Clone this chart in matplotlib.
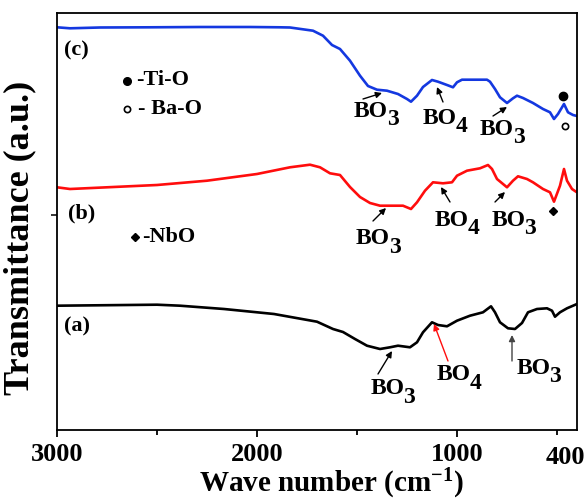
import matplotlib
matplotlib.use("Agg")
import matplotlib.pyplot as plt
from matplotlib.ticker import FixedLocator
from matplotlib.transforms import blended_transform_factory

plt.rcParams["font.family"] = ["Liberation Serif", "DejaVu Serif"]
plt.rcParams["font.weight"] = "bold"
plt.rcParams["mathtext.fontset"] = "custom"
plt.rcParams["mathtext.rm"] = "Liberation Serif:bold"
plt.rcParams["mathtext.bf"] = "Liberation Serif:bold"
plt.rcParams["mathtext.it"] = "Liberation Serif:bold:italic"

# ---- FTIR spectra (wavenumber in cm^-1, transmittance in arbitrary units, stacked) ----
wn_c = [3000, 2935, 2785, 2535, 2285, 2035, 1885, 1835, 1720, 1670, 1625, 1585,
        1535, 1485, 1445, 1400, 1350, 1295, 1250, 1230, 1200, 1170, 1125, 1095,
        1050, 1020, 1000, 975, 920, 850, 835, 810, 785, 750, 720, 700, 670, 620,
        570, 535, 515, 495, 465, 445, 420, 400]
tr_c = [402.7, 401.7, 402.5, 402.7, 403.0, 403.0, 402.7, 402.5, 399.3, 394.3,
        385.0, 381.0, 369.3, 354.3, 344.0, 340.3, 339.3, 336.0, 331.0, 328.3,
        334.3, 343.0, 350.0, 348.3, 345.0, 342.7, 347.7, 350.3, 350.3, 350.3,
        348.3, 341.0, 332.7, 327.0, 331.7, 334.3, 332.0, 327.0, 321.0, 317.7,
        311.0, 316.0, 326.0, 317.7, 315.0, 314.0]

wn_b = [3000, 2935, 2750, 2500, 2250, 2000, 1835, 1735, 1685, 1635, 1585, 1535,
        1485, 1435, 1385, 1320, 1270, 1230, 1200, 1160, 1120, 1070, 1025, 1000,
        950, 885, 845, 825, 800, 750, 720, 695, 650, 620, 570, 535, 515, 485,
        465, 450, 425, 405]
tr_b = [242.7, 241.0, 242.7, 245.0, 249.3, 256.0, 262.7, 265.3, 262.7, 256.7,
        255.0, 243.0, 233.0, 227.0, 224.3, 224.3, 224.3, 221.0, 227.7, 239.3,
        247.7, 246.7, 247.7, 254.3, 259.3, 261.7, 265.0, 261.0, 251.0, 242.7,
        249.3, 253.7, 251.0, 247.7, 241.0, 237.7, 228.3, 244.3, 261.0, 249.3,
        241.0, 238.3]

wn_a = [3000, 2500, 2385, 2165, 1915, 1700, 1620, 1570, 1510, 1450, 1385, 1335,
        1295, 1235, 1200, 1170, 1125, 1095, 1050, 1000, 935, 870, 830, 810, 785,
        745, 710, 675, 645, 600, 550, 525, 510, 485, 450, 400]
tr_a = [124.3, 125.3, 124.3, 121.0, 116.0, 108.3, 101.0, 98.0, 91.0, 84.3, 81.0,
        82.7, 84.3, 82.7, 87.7, 97.7, 107.7, 105.0, 103.7, 109.3, 114.3, 117.7,
        123.7, 117.7, 107.7, 101.7, 101.0, 107.0, 117.7, 121.0, 121.7, 119.3,
        113.3, 117.7, 121.7, 126.0]

series = [
    (wn_a, tr_a, "#000000"),
    (wn_b, tr_b, "#ff0d0d"),
    (wn_c, tr_c, "#1438e0"),
]

fig = plt.figure(figsize=(5.86, 5.02), dpi=100)
ax = fig.add_axes([57 / 586, 1 - 431 / 502, 520 / 586, 417 / 502])

for wn, tr, col in series:
    ax.plot(wn, tr, color=col, lw=1.9, solid_joinstyle="round")

ax.set_xlim(3000, 400)
ax.set_ylim(0, 417)

# axes styling
for sp in ax.spines.values():
    sp.set_linewidth(1.3)
ax.xaxis.set_major_locator(FixedLocator([3000, 2000, 1000]))
ax.xaxis.set_minor_locator(FixedLocator([2500, 1500, 500]))
ax.yaxis.set_major_locator(FixedLocator([215]))
ax.set_yticklabels([])
ax.tick_params(axis="x", which="major", direction="out", length=5, width=1.3,
               labelsize=19, pad=4)
ax.tick_params(axis="x", which="minor", direction="out", length=3.5, width=1.3)
ax.tick_params(axis="y", which="major", direction="out", length=4, width=1.1)
ax.set_xticklabels(["3000", "2000", "1000"], fontweight="bold")
trans = blended_transform_factory(ax.transData, ax.transAxes)
ax.text(460, -0.036, "400", transform=trans, ha="center", va="top",
        fontsize=19, fontweight="bold")

ax.set_xlabel("Wave number (cm$^{-1}$)", fontsize=21, fontweight="bold")
ax.xaxis.set_label_coords(0.527, -0.085)
ax.set_ylabel("Transmittance (a.u.)", fontsize=26, fontweight="bold")
ax.yaxis.set_label_coords(-0.04, 0.463)

# sample labels
txt = dict(fontsize=16, fontweight="bold", color="black")
ax.text(2905, 381, "(c)", ha="center", va="center", **txt)
ax.text(2875, 218, "(b)", ha="center", va="center", **txt)
ax.text(2900, 105, "(a)", ha="center", va="center", **txt)

# band key
ax.plot([2650], [349], "o", color="black", ms=5.5)
ax.text(2605, 351, "-Ti-O", ha="left", va="center", **txt)
ax.plot([2650], [321], "o", mfc="white", mec="black", mew=1.2, ms=4.5)
ax.text(2595, 322, "- Ba-O", ha="left", va="center", **txt)
ax.plot([2610], [193], "D", color="black", ms=4.5)
ax.text(2575, 194, "-NbO", ha="left", va="center", **txt)

# peak markers
ax.plot([470], [334], "o", color="black", ms=6)
ax.plot([460], [304], "o", mfc="white", mec="black", mew=1.2, ms=4.5)
ax.plot([520], [219], "D", color="black", ms=4.5)


def band(base, sub, join, tail, tip, arrow_color="black"):
    """Draw a band name like BO3 with its digit lowered, and an arrow to the peak."""
    ax.text(join[0], join[1], base, ha="right", va="baseline",
            fontsize=17, fontweight="bold")
    ax.annotate(sub, xy=join, xytext=(-1, -6), textcoords="offset points",
                ha="left", va="baseline", fontsize=17, fontweight="bold")
    ax.annotate("", xy=tip, xytext=tail,
                arrowprops=dict(arrowstyle="-|>", color=arrow_color, lw=1.0,
                                mutation_scale=9, shrinkA=0, shrinkB=0))


# curve (c)
band("BO", "3", (1345, 314), (1470, 331), (1375, 337))
band("BO", "4", (1000, 307), (1070, 328), (1100, 343))
band("BO", "3", (715, 296), (820, 314), (750, 323))
# curve (b)
band("BO", "3", (1335, 186.5), (1420, 209), (1355, 222))
band("BO", "4", (940, 205.5), (1035, 228), (1080, 243))
band("BO", "3", (657, 205.5), (810, 228), (760, 238))
# curve (a)
band("BO", "3", (1262, 36.5), (1395, 56), (1325, 79))
band("BO", "4", (932, 50.5), (1045, 69), (1115, 106), arrow_color="#ff0d0d")
band("BO", "3", (532, 57.5), (725, 69), (725, 95), arrow_color="#444444")

fig.savefig("out.png", dpi=100)
